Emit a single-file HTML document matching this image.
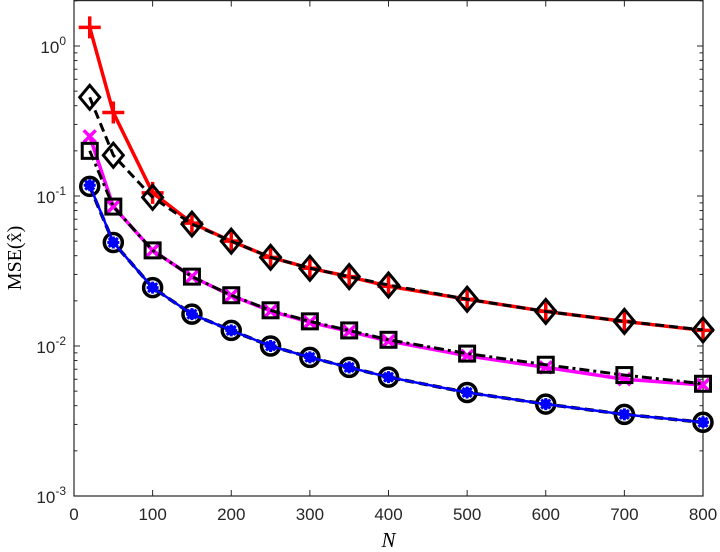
<!DOCTYPE html>
<html><head><meta charset="utf-8"><style>
body{margin:0;background:#fff;}
svg{display:block;font-family:"Liberation Sans",sans-serif;}
</style></head><body>
<svg id="chart" width="720" height="552" viewBox="0 0 720 552"></svg>
<script>
const nValues=[20,50,100,150,200,250,300,350,400,500,600,700,800];
const redPlus=[1.33,0.36,0.105,0.066,0.05,0.039,0.033,0.029,0.025,0.0205,0.017,0.0146,0.0127];
const blackDiamond=[0.455,0.187,0.098,0.065,0.05,0.039,0.033,0.029,0.0255,0.0205,0.017,0.0146,0.0128];
const magentaX=[0.25,0.085,0.0434,0.029,0.0217,0.0171,0.0144,0.0125,0.0108,0.0086,0.0072,0.006,0.0055];
const blackSquare=[0.2,0.085,0.0434,0.029,0.0218,0.0173,0.0146,0.0127,0.011,0.0089,0.0075,0.0064,0.0056];
const blueStar=[0.118,0.049,0.0245,0.0163,0.0127,0.01,0.0084,0.0072,0.0062,0.0049,0.0041,0.0035,0.0031];
const blackCircle=[0.116,0.049,0.0245,0.0163,0.0127,0.01,0.0084,0.0072,0.0062,0.0049,0.0041,0.0035,0.0031];
const xTicks=[0,100,200,300,400,500,600,700,800];
const yDecades=[-3,-2,-1,0];

const L=74,R=703,T=0.6,B=496;
const xs=v=>L+v*(R-L)/800;
const ys=v=>B-(Math.log10(v)+3)*150;
const svg=document.getElementById('chart');
const NS='http://www.w3.org/2000/svg';
function mk(tag,attrs,parent){const e=document.createElementNS(NS,tag);for(const k in attrs)e.setAttribute(k,attrs[k]);(parent||svg).appendChild(e);return e;}

const axes=mk('g',{});


xTicks.forEach(t=>{
  const x=xs(t);
  mk('line',{x1:x,x2:x,y1:B,y2:B-6,stroke:'#262626','stroke-width':1},axes);
  mk('line',{x1:x,x2:x,y1:T,y2:T+6,stroke:'#262626','stroke-width':1},axes);
  const tx=mk('text',{x:x,y:B+24,'text-anchor':'middle','font-size':17,fill:'#262626'},axes);
  tx.textContent=t;
  
  
});
yDecades.forEach(d=>{
  const y=ys(Math.pow(10,d));
  mk('line',{x1:L,x2:L+6,y1:y,y2:y,stroke:'#262626'},axes);
  mk('line',{x1:R,x2:R-6,y1:y,y2:y,stroke:'#262626'},axes);
  for(let m=2;m<=9;m++){
    const v=m*Math.pow(10,d);
    if(v>2.01)break;
    const yy=ys(v);
    mk('line',{x1:L,x2:L+3.5,y1:yy,y2:yy,stroke:'#262626'},axes);
    mk('line',{x1:R,x2:R-3.5,y1:yy,y2:yy,stroke:'#262626'},axes);
  }
  const tx=mk('text',{x:L-8,y:y+7,'text-anchor':'end','font-size':17,fill:'#262626'},axes);
  tx.innerHTML='10<tspan dy="-8" font-size="12">'+d+'</tspan>';
  
  
});
mk('rect',{x:L,y:T,width:R-L,height:B-T,fill:'none',stroke:'#262626','stroke-width':1.2},axes);
const xl=mk('text',{x:(L+R)/2,y:547,'text-anchor':'middle','font-size':21,'font-style':'italic','font-family':'Liberation Serif,serif'});
xl.textContent='N';


const yl=mk('text',{x:0,y:0,'text-anchor':'middle','font-size':20,'font-family':'Liberation Serif,serif',transform:'translate(21,258) rotate(-90)'});
yl.textContent='MSE(x̂)';



function line(data,color,dash,w,name){
  const pts=nValues.map((n,i)=>xs(n)+','+ys(data[i])).join(' ');
  const p=mk('polyline',{points:pts,fill:'none',stroke:color,'stroke-width':w,'stroke-dasharray':dash||'none','stroke-linejoin':'round'});
  
  
}
function markers(data,shape,color,name){
  const g=mk('g',{});
  
  
  nValues.forEach((n,i)=>{
    const x=xs(n),y=ys(data[i]);
    if(shape==='plus'){mk('path',{d:`M${x-11} ${y}H${x+11}M${x} ${y-11}V${y+11}`,stroke:color,'stroke-width':3.5,fill:'none'},g);}
    else if(shape==='x'){mk('path',{d:`M${x-6} ${y-6}L${x+6} ${y+6}M${x-6} ${y+6}L${x+6} ${y-6}`,stroke:color,'stroke-width':3.5},g);}
    else if(shape==='diamond'){mk('path',{d:`M${x} ${y-12}L${x+10} ${y}L${x} ${y+12}L${x-10} ${y}Z`,stroke:color,'stroke-width':3,fill:'none'},g);}
    else if(shape==='square'){mk('rect',{x:x-7.5,y:y-7.5,width:15,height:15,stroke:color,'stroke-width':3,fill:'none'},g);}
    else if(shape==='circle'){mk('circle',{cx:x,cy:y,r:9,stroke:color,'stroke-width':3.5,fill:'none'},g);}
    else if(shape==='star'){mk('path',{d:`M${x-6} ${y}H${x+6}M${x} ${y-6}V${y+6}M${x-4.5} ${y-4.5}L${x+4.5} ${y+4.5}M${x-4.5} ${y+4.5}L${x+4.5} ${y-4.5}`,stroke:color,'stroke-width':3},g);
      mk('circle',{cx:x,cy:y,r:5,fill:color},g);}
  });
}
line(redPlus,'#ff0000',null,3.5,'red-line');
markers(redPlus,'plus','#ff0000','red-plus-markers');
line(blackDiamond,'#000','9,5',3,'black-diamond-line');
markers(blackDiamond,'diamond','#000','diamond-markers');
line(magentaX,'#ff00ff',null,3.5,'magenta-line');
markers(magentaX,'x','#ff00ff','magenta-x-markers');
line(blackSquare,'#000','10,4,3,4',3,'black-square-line');
markers(blackSquare,'square','#000','square-markers');
line(blackCircle,'#000','9,5',3.5,'black-circle-line');
markers(blackCircle,'circle','#000','circle-markers');
line(blueStar,'#0000ff',null,2.5,'blue-line');
markers(blueStar,'star','#0000ff','blue-star-markers');
</script>
</body></html>
